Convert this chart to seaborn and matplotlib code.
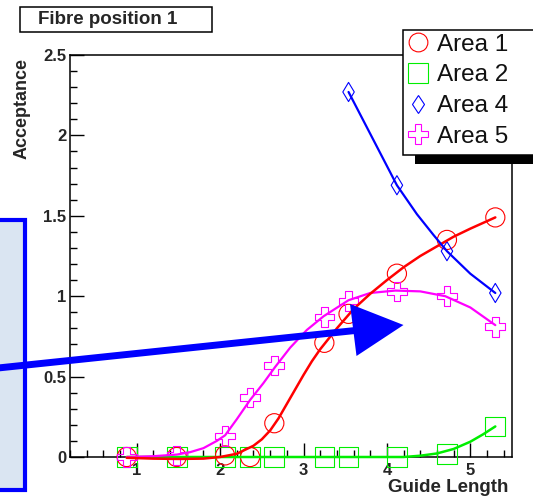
import matplotlib
matplotlib.use("Agg")
import matplotlib.pyplot as plt
from matplotlib.lines import Line2D
from matplotlib.patches import Rectangle, Polygon
from matplotlib.ticker import MultipleLocator
import seaborn as sns

sns.set_style("white")
plt.rcParams["font.family"] = ["Liberation Sans", "DejaVu Sans"]

# ---------------- data ----------------
x_pts = [0.88, 1.48, 2.06, 2.36, 2.65, 3.25, 3.54, 4.12, 4.72, 5.30]
area1_y = [0.0, 0.0, 0.01, 0.0, 0.21, 0.71, 0.89, 1.14, 1.35, 1.49]
area2_y = [0.0, 0.0, 0.0, 0.0, 0.0, 0.0, 0.0, 0.0, 0.02, 0.19]
area5_y = [0.0, 0.01, 0.13, 0.37, 0.57, 0.87, 0.97, 1.03, 1.00, 0.81]
x_area4 = [3.54, 4.12, 4.72, 5.30]
area4_y = [2.27, 1.69, 1.28, 1.02]

# fitted curves
fit1_x = [0.88, 1.2, 1.5, 1.8, 2.0, 2.2, 2.4, 2.5, 2.6, 2.7, 2.8, 2.9, 3.0, 3.1, 3.2,
          3.4, 3.6, 3.8, 4.0, 4.2, 4.4, 4.6, 4.8, 5.0, 5.3]
fit1_y = [-0.005, -0.01, -0.012, -0.01, 0.0, 0.02, 0.07, 0.11, 0.165, 0.24, 0.33,
          0.42, 0.51, 0.595, 0.67, 0.80, 0.92, 1.015, 1.10, 1.18, 1.25, 1.31, 1.37,
          1.42, 1.49]
fit2_x = [0.88, 4.2, 4.4, 4.6, 4.8, 5.0, 5.15, 5.3]
fit2_y = [0.0, 0.0, 0.008, 0.022, 0.05, 0.095, 0.14, 0.19]
fit4_x = [3.54, 3.8, 3.96, 4.12, 4.36, 4.56, 4.72, 5.0, 5.3]
fit4_y = [2.27, 2.01, 1.85, 1.69, 1.51, 1.38, 1.28, 1.14, 1.02]
fit5_x = [0.88, 1.2, 1.48, 1.64, 1.8, 1.96, 2.06, 2.2, 2.36, 2.52, 2.66, 2.84,
          3.04, 3.24, 3.54, 3.8, 4.1, 4.4, 4.7, 5.0, 5.3]
fit5_y = [0.0, 0.005, 0.015, 0.03, 0.055, 0.10, 0.135, 0.235, 0.355, 0.46, 0.56, 0.68,
          0.79, 0.875, 0.975, 1.02, 1.035, 1.03, 1.0, 0.93, 0.82]

labels = ["Area 1", "Area 2", "Area 4", "Area 5"]
colors = ["#ff0000", "#00ee00", "#0000ff", "#ff00ff"]
title_text = "Fibre position 1"
xlabel_text = "Guide Length"
ylabel_text = "Acceptance"

W, H = 533, 499
fig = plt.figure(figsize=(W / 100, H / 100), dpi=100)


def fx(px):
    return px / W


def fy(py):
    return 1 - py / H


ax = fig.add_axes([fx(70), fy(457), (512 - 70) / W, (457 - 55) / H])
ax.set_xlim(0.2, 5.5)
ax.set_ylim(0, 2.5)

# markers
marker_specs = [
    (x_pts, area1_y, "o", 190, colors[0]),
    (x_pts, area2_y, "s", 200, colors[1]),
    (x_area4, area4_y, "d", 95, colors[2]),
    (x_pts, area5_y, "P", 200, colors[3]),
]
for xs, ys, mk, s, c in [marker_specs[1], marker_specs[0], marker_specs[3], marker_specs[2]]:
    sns.scatterplot(x=xs, y=ys, marker=mk, s=s, facecolor="none", edgecolor=c,
                    linewidth=0.8, ax=ax, zorder=3, clip_on=False)

# fitted curves
for xs, ys, c, lw in [(fit2_x, fit2_y, colors[1], 1.8), (fit5_x, fit5_y, colors[3], 1.6),
                      (fit1_x, fit1_y, colors[0], 1.8), (fit4_x, fit4_y, colors[2], 1.6)]:
    sns.lineplot(x=xs, y=ys, color=c, lw=lw, sort=False, ax=ax, zorder=4, clip_on=False)

for coll in ax.collections:
    coll.set_clip_on(False)

# axes style (ROOT-like)
for sp in ax.spines.values():
    sp.set_linewidth(1.1)
    sp.set_color("black")
ax.xaxis.set_major_locator(MultipleLocator(1))
ax.xaxis.set_minor_locator(MultipleLocator(0.2))
ax.yaxis.set_major_locator(MultipleLocator(0.5))
ax.yaxis.set_minor_locator(MultipleLocator(0.1))
ax.tick_params(which="both", direction="in", top=False, right=False, bottom=True,
               left=True, width=1.0, color="black")
ax.tick_params(which="major", length=10)
ax.tick_params(which="minor", length=5)
ax.tick_params(axis="y", which="major", pad=2.5)
ax.tick_params(axis="x", which="major", pad=4)
ax.set_xticks([1, 2, 3, 4, 5])
ax.set_xticklabels(["1", "2", "3", "4", "5"])
ax.set_yticks([0, 0.5, 1, 1.5, 2, 2.5])
ax.set_yticklabels(["0", "0.5", "1", "1.5", "2", "2.5"])
for lab in ax.get_xticklabels() + ax.get_yticklabels():
    lab.set_fontweight("bold")
    lab.set_fontsize(12)

ax.set_xlabel(xlabel_text, fontsize=13.5, fontweight="bold", loc="right")
ax.set_ylabel(ylabel_text, fontsize=13, fontweight="bold", loc="top")
ax.xaxis.set_label_coords(0.991, -0.055)
ax.yaxis.set_label_coords(-0.09, 0.993)

# legend (figure level, ROOT-style box with shadow)
handles = [Line2D([], [], ls="", marker=m, ms=ms, mfc="none", mec=c, mew=0.8)
           for m, ms, c in [("o", 13.5, colors[0]), ("s", 14, colors[1]),
                            ("d", 9.5, colors[2]), ("P", 14, colors[3])]]
fig.patches.append(Rectangle((fx(415), fy(163.5)), fx(560) - fx(415), fy(150) - fy(163.5),
                             transform=fig.transFigure, fc="black", ec="none", zorder=5))
fig.patches.append(Rectangle((fx(403), fy(155)), fx(560) - fx(403), fy(29.5) - fy(155),
                             transform=fig.transFigure, fc="white", ec="black", lw=1.1,
                             zorder=6))
leg = fig.legend(handles, labels, loc="upper left", bbox_to_anchor=(fx(405), fy(33.5)),
                 bbox_transform=fig.transFigure, frameon=False, fontsize=17.5,
                 handlelength=1.05, handletextpad=0.25, labelspacing=0.36, borderpad=0,
                 borderaxespad=0)
leg.set_zorder(7)
for t in leg.get_texts():
    t.set_color("#111111")

# title box
fig.patches.append(Rectangle((fx(19.5), fy(31.5)), fx(212) - fx(19.5), fy(7.5) - fy(31.5),
                             transform=fig.transFigure, fc="white", ec="black", lw=1.1))
fig.text(fx(108), fy(19.5), title_text, ha="center", va="center", fontsize=13.5,
         fontweight="bold")

# left image placeholder box
fig.patches.append(Rectangle((fx(-5), fy(490)), fx(25) - fx(-5), fy(220) - fy(490),
                             transform=fig.transFigure, fc="#dae5f2", ec="#0000ff", lw=3,
                             zorder=8))

# blue arrow
fig.lines.append(Line2D([fx(-2), fx(360)], [fy(368), fy(330)], transform=fig.transFigure,
                        color="#0000ff", lw=5, zorder=9, solid_capstyle="butt"))
fig.patches.append(Polygon([(fx(350), fy(304)), (fx(356.5), fy(356)), (fx(403.5), fy(325))],
                           closed=True, transform=fig.transFigure, fc="#0000ff",
                           ec="none", zorder=9))

fig.savefig("out.png", dpi=100)
